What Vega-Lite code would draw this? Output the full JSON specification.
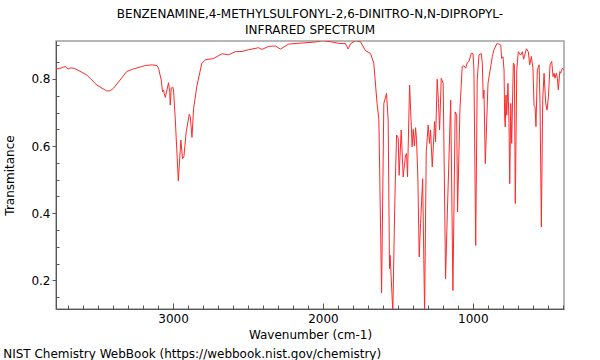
{
  "$schema": "https://vega.github.io/schema/vega-lite/v6.json",
  "padding": {"left": 3, "top": 7, "right": 35, "bottom": 0},
  "background": "white",
  "config": {
    "font": "DejaVu Sans",
    "view": {"stroke": "#a0a0a0", "strokeWidth": 1.5},
    "title": {"font": "DejaVu Sans", "fontWeight": "normal", "fontSize": 12, "color": "#000"},
    "axis": {"labelFont": "DejaVu Sans", "titleFont": "DejaVu Sans", "labelFontSize": 12, "titleFontSize": 12, "titleFontWeight": "normal", "labelColor": "#000", "titleColor": "#000", "domainColor": "#555", "tickColor": "#555", "grid": false}
  },
  "title": {"text": "NIST Chemistry WebBook (https://webbook.nist.gov/chemistry)", "orient": "bottom", "anchor": "start", "frame": "bounds", "offset": 8},
  "vconcat": [
    {
      "title": {"text": ["BENZENAMINE,4-METHYLSULFONYL-2,6-DINITRO-N,N-DIPROPYL-", "INFRARED SPECTRUM"], "anchor": "middle", "frame": "group", "lineHeight": 16, "offset": 4},
      "width": 508,
      "height": 268,
      "data": {"values": [
        {"w": 3781, "t": 0.829}, {"w": 3745, "t": 0.833}, {"w": 3720, "t": 0.837}, {"w": 3700, "t": 0.830},
        {"w": 3680, "t": 0.833}, {"w": 3655, "t": 0.831}, {"w": 3576, "t": 0.812}, {"w": 3509, "t": 0.782},
        {"w": 3442, "t": 0.764}, {"w": 3420, "t": 0.765}, {"w": 3398, "t": 0.772}, {"w": 3353, "t": 0.797},
        {"w": 3309, "t": 0.822}, {"w": 3264, "t": 0.83}, {"w": 3209, "t": 0.837}, {"w": 3185, "t": 0.84},
        {"w": 3141, "t": 0.842}, {"w": 3108, "t": 0.84}, {"w": 3097, "t": 0.832}, {"w": 3079, "t": 0.797},
        {"w": 3070, "t": 0.762}, {"w": 3063, "t": 0.767}, {"w": 3059, "t": 0.757}, {"w": 3052, "t": 0.745},
        {"w": 3030, "t": 0.789}, {"w": 3022, "t": 0.76}, {"w": 3019, "t": 0.722}, {"w": 3012, "t": 0.773},
        {"w": 3003, "t": 0.776}, {"w": 2997, "t": 0.767}, {"w": 2985, "t": 0.678}, {"w": 2965, "t": 0.496},
        {"w": 2948, "t": 0.618}, {"w": 2937, "t": 0.563}, {"w": 2928, "t": 0.568}, {"w": 2912, "t": 0.643},
        {"w": 2892, "t": 0.695}, {"w": 2885, "t": 0.687}, {"w": 2874, "t": 0.626}, {"w": 2863, "t": 0.712},
        {"w": 2841, "t": 0.779}, {"w": 2808, "t": 0.847}, {"w": 2785, "t": 0.857}, {"w": 2729, "t": 0.861},
        {"w": 2674, "t": 0.875}, {"w": 2629, "t": 0.872}, {"w": 2585, "t": 0.881}, {"w": 2540, "t": 0.882},
        {"w": 2496, "t": 0.887}, {"w": 2429, "t": 0.893}, {"w": 2407, "t": 0.888}, {"w": 2362, "t": 0.897},
        {"w": 2317, "t": 0.898}, {"w": 2284, "t": 0.889}, {"w": 2228, "t": 0.904}, {"w": 2140, "t": 0.907},
        {"w": 2050, "t": 0.91}, {"w": 2006, "t": 0.914}, {"w": 1950, "t": 0.911}, {"w": 1894, "t": 0.906},
        {"w": 1850, "t": 0.905}, {"w": 1832, "t": 0.889}, {"w": 1816, "t": 0.905}, {"w": 1783, "t": 0.914},
        {"w": 1750, "t": 0.911}, {"w": 1716, "t": 0.884}, {"w": 1683, "t": 0.876}, {"w": 1661, "t": 0.847},
        {"w": 1639, "t": 0.727}, {"w": 1627, "t": 0.678}, {"w": 1609, "t": 0.163}, {"w": 1594, "t": 0.727},
        {"w": 1576, "t": 0.757}, {"w": 1565, "t": 0.678}, {"w": 1556, "t": 0.235}, {"w": 1552, "t": 0.275},
        {"w": 1534, "t": 0.105}, {"w": 1520, "t": 0.449}, {"w": 1509, "t": 0.633}, {"w": 1502, "t": 0.628},
        {"w": 1498, "t": 0.623}, {"w": 1492, "t": 0.513}, {"w": 1478, "t": 0.648}, {"w": 1465, "t": 0.508},
        {"w": 1449, "t": 0.573}, {"w": 1442, "t": 0.578}, {"w": 1436, "t": 0.508}, {"w": 1422, "t": 0.782},
        {"w": 1405, "t": 0.598}, {"w": 1398, "t": 0.65}, {"w": 1390, "t": 0.6}, {"w": 1382, "t": 0.655},
        {"w": 1376, "t": 0.62}, {"w": 1367, "t": 0.508}, {"w": 1358, "t": 0.27}, {"w": 1349, "t": 0.369},
        {"w": 1335, "t": 0.503}, {"w": 1322, "t": 0.105}, {"w": 1311, "t": 0.583}, {"w": 1298, "t": 0.663},
        {"w": 1289, "t": 0.608}, {"w": 1282, "t": 0.648}, {"w": 1271, "t": 0.538}, {"w": 1255, "t": 0.673},
        {"w": 1249, "t": 0.613}, {"w": 1238, "t": 0.799}, {"w": 1229, "t": 0.727}, {"w": 1222, "t": 0.648},
        {"w": 1211, "t": 0.802}, {"w": 1198, "t": 0.787}, {"w": 1182, "t": 0.205}, {"w": 1171, "t": 0.389},
        {"w": 1148, "t": 0.737}, {"w": 1133, "t": 0.17}, {"w": 1118, "t": 0.702}, {"w": 1108, "t": 0.692},
        {"w": 1102, "t": 0.404}, {"w": 1086, "t": 0.712}, {"w": 1071, "t": 0.837}, {"w": 1059, "t": 0.839},
        {"w": 1048, "t": 0.832}, {"w": 1037, "t": 0.849}, {"w": 1026, "t": 0.852}, {"w": 1011, "t": 0.876},
        {"w": 999, "t": 0.876}, {"w": 993, "t": 0.827}, {"w": 981, "t": 0.304}, {"w": 971, "t": 0.797},
        {"w": 959, "t": 0.872}, {"w": 944, "t": 0.876}, {"w": 937, "t": 0.847}, {"w": 931, "t": 0.742},
        {"w": 926, "t": 0.767}, {"w": 917, "t": 0.548}, {"w": 899, "t": 0.787}, {"w": 870, "t": 0.867},
        {"w": 859, "t": 0.887}, {"w": 840, "t": 0.905}, {"w": 826, "t": 0.904}, {"w": 814, "t": 0.901},
        {"w": 808, "t": 0.861}, {"w": 799, "t": 0.866}, {"w": 792, "t": 0.827}, {"w": 788, "t": 0.687},
        {"w": 784, "t": 0.657}, {"w": 779, "t": 0.752}, {"w": 774, "t": 0.692}, {"w": 766, "t": 0.787},
        {"w": 759, "t": 0.667}, {"w": 754, "t": 0.488}, {"w": 747, "t": 0.727}, {"w": 741, "t": 0.608},
        {"w": 730, "t": 0.847}, {"w": 723, "t": 0.842}, {"w": 717, "t": 0.429}, {"w": 707, "t": 0.827},
        {"w": 697, "t": 0.881}, {"w": 681, "t": 0.871}, {"w": 670, "t": 0.881}, {"w": 661, "t": 0.859},
        {"w": 643, "t": 0.89}, {"w": 630, "t": 0.881}, {"w": 621, "t": 0.842}, {"w": 610, "t": 0.867},
        {"w": 599, "t": 0.832}, {"w": 592, "t": 0.722}, {"w": 585, "t": 0.717}, {"w": 579, "t": 0.658},
        {"w": 570, "t": 0.827}, {"w": 558, "t": 0.842}, {"w": 552, "t": 0.727}, {"w": 543, "t": 0.359},
        {"w": 534, "t": 0.737}, {"w": 525, "t": 0.817}, {"w": 514, "t": 0.727}, {"w": 505, "t": 0.707},
        {"w": 496, "t": 0.747}, {"w": 485, "t": 0.842}, {"w": 474, "t": 0.852}, {"w": 465, "t": 0.807},
        {"w": 458, "t": 0.817}, {"w": 452, "t": 0.802}, {"w": 443, "t": 0.817}, {"w": 436, "t": 0.802},
        {"w": 430, "t": 0.767}, {"w": 420, "t": 0.822}, {"w": 414, "t": 0.817}, {"w": 403, "t": 0.832},
        {"w": 392, "t": 0.827}
      ]},
      "mark": {"type": "line", "color": "#ff2a2a", "strokeWidth": 1, "clip": true, "interpolate": "linear"},
      "encoding": {
        "x": {"field": "w", "type": "quantitative",
          "scale": {"domain": [3781, 392], "reverse": false, "zero": false, "nice": false},
          "axis": {"title": "Wavenumber (cm-1)", "titlePadding": 5,
            "values": [3700,3600,3500,3400,3300,3200,3100,3000,2900,2800,2700,2600,2500,2400,2300,2200,2100,2000,1900,1800,1700,1600,1500,1400,1300,1200,1100,1000,900,800,700,600,500,400],
            "labelExpr": "datum.value % 1000 == 0 ? datum.label : ''",
            "format": "d",
            "tickSize": {"condition": {"test": "datum.value % 1000 == 0", "value": -6}, "value": -4},
            "labelPadding": 10}
        },
        "y": {"field": "t", "type": "quantitative",
          "scale": {"domain": [0.115, 0.913], "zero": false, "nice": false},
          "axis": {"title": "Transmitance", "titlePadding": 14,
            "values": [0.15,0.2,0.25,0.3,0.35,0.4,0.45,0.5,0.55,0.6,0.65,0.7,0.75,0.8,0.85,0.9],
            "labelExpr": "(abs(datum.value*5 - round(datum.value*5)) < 0.001) ? format(datum.value, '.1f') : ''",
            "tickSize": {"condition": {"test": "abs(datum.value*5 - round(datum.value*5)) < 0.001", "value": 4}, "value": -3},
            "labelPadding": 2}
        }
      }
    }
  ]
}
